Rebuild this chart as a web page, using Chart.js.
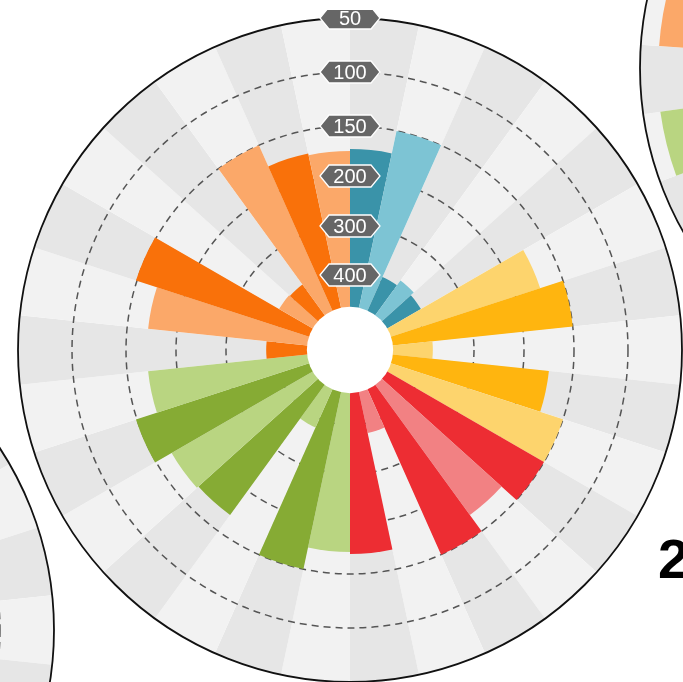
<!DOCTYPE html>
<html><head><meta charset="utf-8">
<script src="https://cdn.jsdelivr.net/npm/chart.js@4"></script>
<style>
html,body{margin:0;padding:0;background:#fff;width:683px;height:682px;overflow:hidden;position:relative}
.wrap{position:absolute;width:680px;height:680px}
canvas{display:block}
#big2{position:absolute;left:658px;top:531px;font:bold 56px "Liberation Sans",Arial,sans-serif;color:#000;line-height:56px}
</style></head><body>
<div class="wrap" style="left:-618px;top:290px"><canvas id="bl" width="680" height="680"></canvas></div>
<div class="wrap" style="left:632px;top:-272px"><canvas id="tr" width="680" height="680"></canvas></div>
<div class="wrap" style="left:10px;top:10px"><canvas id="main" width="680" height="680"></canvas></div>
<div id="big2">2</div>
<script>
// ---- data ----
const categories = ['S1','S2','S3','S4','S5','S6','S7','S8','S9','S10','S11','S12','S13','S14','S15',
  'S16','S17','S18','S19','S20','S21','S22','S23','S24','S25','S26','S27','S28','S29','S30'];
const TICK_VALUES = [50, 100, 150, 200, 300, 400];
// main chart, clockwise from 12 o'clock
const mainValues = [173, 150, 390, 378, 386, 174, 150, 384, 174, 150,
                    150, 170, 150, 380, 170, 172, 150, 380, 170, 168,
                    149, 171, 382, 171, 149, 386, 388, 150, 173, 175];
// neighbouring chart (top right), only the visible bars
const topRightValues = [null, null, null, null, null, null, null, null, null, null,
                        null, null, null, null, null, null, null, null, null, null,
                        null, 66, null, 67, null, null, null, null, null, null];

// ---- styles ----
const C = {teal:'#3a93a9', lblue:'#7dc4d4', lyel:'#fdd46d', yel:'#ffb50f', red:'#ed2d33', pink:'#f28183',
           dgreen:'#86ab34', lgreen:'#b9d581', orange:'#f9710a', lorange:'#fba869'};
const mainColors = [C.teal, C.lblue, C.teal, C.lblue, C.teal, C.lyel, C.yel, C.lyel, C.yel, C.lyel,
                    C.red, C.pink, C.red, C.pink, C.red, C.lgreen, C.dgreen, C.lgreen, C.dgreen, C.lgreen,
                    C.dgreen, C.lgreen, C.orange, C.lorange, C.orange, C.lorange, C.orange, C.lorange, C.orange, C.lorange];
const topRightColors = mainColors.map((c, i) => i === 21 ? C.lgreen : C.lorange);
const BAND_COLORS = ['#e6e6e6', '#f2f2f2'];
const TICK_RING_FRACTION = [1, 0.8373, 0.6747, 0.5241, 0.3735, 0.2259];
const HOLE_FRACTION = 0.13;

function toPos(v) {
  if (v === null || v === undefined) return null;
  const T = TICK_VALUES, P = TICK_RING_FRACTION;
  let i = 0;
  if (v >= T[T.length - 1]) i = T.length - 2;
  else if (v > T[0]) { while (v > T[i + 1]) i++; }
  return P[i] + (v - T[i]) * (P[i + 1] - P[i]) / (T[i + 1] - T[i]);
}

function hexLabel(ctx, cx, cy, text) {
  const w = 60, h = 22, p = 9;
  ctx.beginPath();
  ctx.moveTo(cx - w / 2, cy);
  ctx.lineTo(cx - w / 2 + p, cy - h / 2);
  ctx.lineTo(cx + w / 2 - p, cy - h / 2);
  ctx.lineTo(cx + w / 2, cy);
  ctx.lineTo(cx + w / 2 - p, cy + h / 2);
  ctx.lineTo(cx - w / 2 + p, cy + h / 2);
  ctx.closePath();
  ctx.fillStyle = '#666';
  ctx.fill();
  ctx.lineWidth = 1.3;
  ctx.strokeStyle = '#fff';
  ctx.stroke();
  ctx.fillStyle = '#fff';
  ctx.font = '20px "Liberation Sans", Arial, sans-serif';
  ctx.textAlign = 'center';
  ctx.textBaseline = 'middle';
  ctx.fillText(text, cx, cy + 1);
}

const decor = {
  id: 'decor',
  afterDatasetDraw(chart, args) {
    const ds = chart.data.datasets[args.index];
    if (!ds.bandLayer) return;
    const s = chart.scales.r, ctx = chart.ctx;
    ctx.save();
    ctx.setLineDash([7, 5]);
    ctx.strokeStyle = '#555';
    ctx.lineWidth = 1.5;
    TICK_VALUES.slice(1).forEach(v => {
      const d = s.getDistanceFromCenterForValue(toPos(v));
      ctx.beginPath();
      ctx.arc(s.xCenter, s.yCenter, d, 0, Math.PI * 2);
      ctx.stroke();
    });
    ctx.restore();
  },
  afterDatasetsDraw(chart) {
    const s = chart.scales.r, ctx = chart.ctx;
    ctx.save();
    ctx.fillStyle = '#fff';
    ctx.beginPath();
    ctx.arc(s.xCenter, s.yCenter, s.drawingArea * HOLE_FRACTION, 0, Math.PI * 2);
    ctx.fill();
    ctx.strokeStyle = '#111';
    ctx.lineWidth = 1.8;
    ctx.beginPath();
    ctx.arc(s.xCenter, s.yCenter, s.getDistanceFromCenterForValue(toPos(TICK_VALUES[0])), 0, Math.PI * 2);
    ctx.stroke();
    ctx.restore();
  },
  afterDraw(chart) {
    const s = chart.scales.r, ctx = chart.ctx;
    ctx.save();
    TICK_VALUES.forEach(v => {
      const d = s.getDistanceFromCenterForValue(toPos(v));
      hexLabel(ctx, s.xCenter, s.yCenter - d, String(v));
    });
    ctx.restore();
  }
};

function makeChart(id, values, colors, startAngle) {
  const datasets = [];
  if (values) {
    datasets.push({data: values.map(toPos), backgroundColor: colors, borderWidth: 0});
  }
  datasets.push({
    bandLayer: true,
    data: categories.map(() => toPos(TICK_VALUES[0])),
    backgroundColor: categories.map((_, i) => BAND_COLORS[i % 2]),
    borderWidth: 0
  });
  return new Chart(document.getElementById(id), {
    type: 'polarArea',
    data: {labels: categories, datasets},
    options: {
      responsive: false,
      animation: false,
      layout: {padding: 8},
      elements: {arc: {borderWidth: 0}},
      plugins: {legend: {display: false}, tooltip: {enabled: false}},
      scales: {
        r: {
          min: 0, max: 1, startAngle: startAngle,
          ticks: {display: false},
          grid: {display: false},
          angleLines: {display: false},
          pointLabels: {display: false}
        }
      }
    },
    plugins: [decor]
  });
}

makeChart('bl', null, null, 0);
makeChart('tr', topRightValues, topRightColors, -2);
makeChart('main', mainValues, mainColors, 0);
</script>
</body></html>
